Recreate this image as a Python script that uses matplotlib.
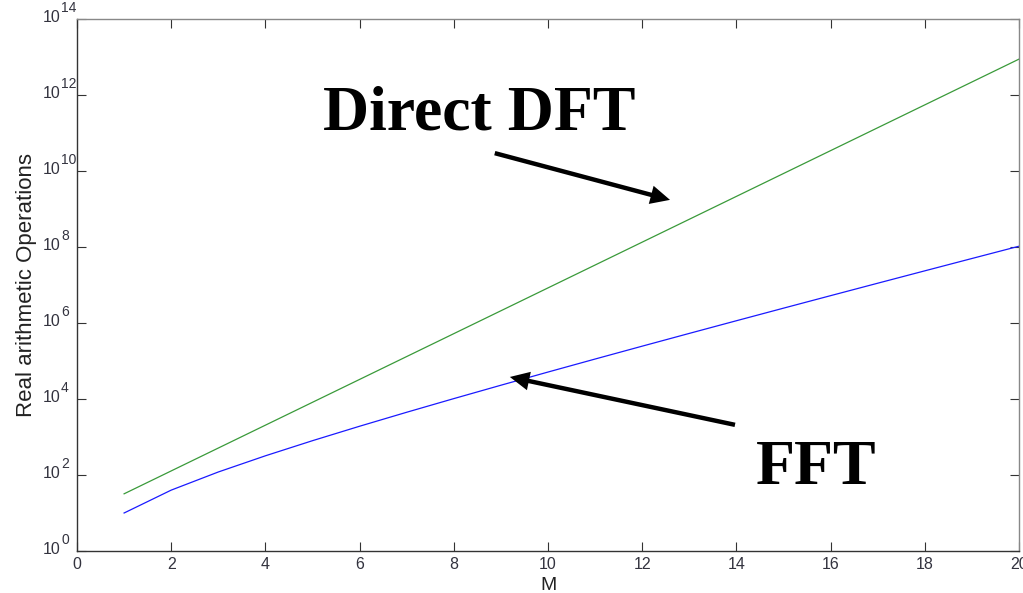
import matplotlib
matplotlib.use("Agg")
import matplotlib.pyplot as plt
import matplotlib.transforms as mtransforms
from matplotlib.ticker import FixedLocator, NullLocator

# Transform size exponent M (N = 2^M) and real arithmetic operation counts
M = [1, 2, 3, 4, 5, 6, 7, 8, 9, 10, 11, 12, 13, 14, 15, 16, 17, 18, 19, 20]
direct_dft_ops = [32, 128, 512, 2048, 8192, 32768, 131072, 524288, 2097152,
                  8388608, 33554432, 134217728, 536870912, 2147483648,
                  8589934592, 34359738368, 137438953472, 549755813888,
                  2199023255552, 8796093022208]
fft_ops = [10, 40, 120, 320, 800, 1920, 4480, 10240, 23040, 51200, 112640,
           245760, 532480, 1146880, 2457600, 5242880, 11141120, 23592960,
           49807360, 104857600]

x_ticks = [0, 2, 4, 6, 8, 10, 12, 14, 16, 18, 20]
y_exponents = [0, 2, 4, 6, 8, 10, 12, 14]

plt.rcParams["font.family"] = ["Liberation Sans", "DejaVu Sans"]
tick_color = "#33333f"

fig = plt.figure(figsize=(10.23, 5.93), dpi=100)
ax = fig.add_axes([77 / 1023, 42 / 593, 942 / 1023, 532 / 593])

ax.plot(M, direct_dft_ops, color="#3a9a3a", lw=0.9)
ax.plot(M, fft_ops, color="#1a1aff", lw=0.9)

ax.set_yscale("log")
ax.set_xlim(0, 20)
ax.set_ylim(1, 1e14)

ax.xaxis.set_major_locator(FixedLocator(x_ticks))
ax.set_xticklabels([str(t) for t in x_ticks])
ax.yaxis.set_major_locator(FixedLocator([10.0 ** e for e in y_exponents]))
ax.yaxis.set_minor_locator(NullLocator())
ax.set_yticklabels([""] * len(y_exponents))

ax.tick_params(which="both", direction="in", top=True, right=True,
               length=6.5, width=0.8, color="#333333", labelsize=11.5,
               labelcolor=tick_color, pad=4)
for side in ("left", "bottom"):
    ax.spines[side].set_color("#333333")
for side in ("top", "right"):
    ax.spines[side].set_color("#888888")
for s in ax.spines.values():
    s.set_linewidth(1.0)

# Power-of-ten labels with a large, raised exponent
ytrans = ax.get_yaxis_transform()
base_tr = mtransforms.offset_copy(ytrans, fig=fig, x=-16, y=1, units="dots")
exp_tr = mtransforms.offset_copy(ytrans, fig=fig, x=-16, y=4, units="dots")
for e in y_exponents:
    ax.text(0, 10.0 ** e, "10", transform=base_tr, ha="right", va="center",
            fontsize=11.5, color=tick_color)
    ax.text(0, 10.0 ** e, str(e), transform=exp_tr, ha="left", va="bottom",
            fontsize=10, color=tick_color)

ax.set_xlabel("M", fontsize=14, color="#222222", labelpad=4)
ax.set_ylabel("Real arithmetic Operations", fontsize=16, color="#222222",
              labelpad=25)

label_font = dict(family=["Liberation Serif", "DejaVu Serif"],
                  fontweight="bold", fontsize=46, color="black")
arrow = dict(arrowstyle="simple,head_length=1.4,head_width=1.35,tail_width=0.32",
             lw=0, color="black", mutation_scale=10, shrinkA=0, shrinkB=0)

ax.text(8.54, 10 ** 11.08, "Direct DFT", ha="center", va="baseline",
        **label_font)
ax.annotate("", xy=(12.59, 10 ** 9.24), xytext=(8.87, 10 ** 10.47),
            arrowprops=arrow)

ax.text(15.69, 10 ** 1.76, "FFT", ha="center", va="baseline", **label_font)
ax.annotate("", xy=(9.19, 10 ** 4.58), xytext=(13.97, 10 ** 3.32),
            arrowprops=arrow)

fig.savefig("out.png", dpi=100)
